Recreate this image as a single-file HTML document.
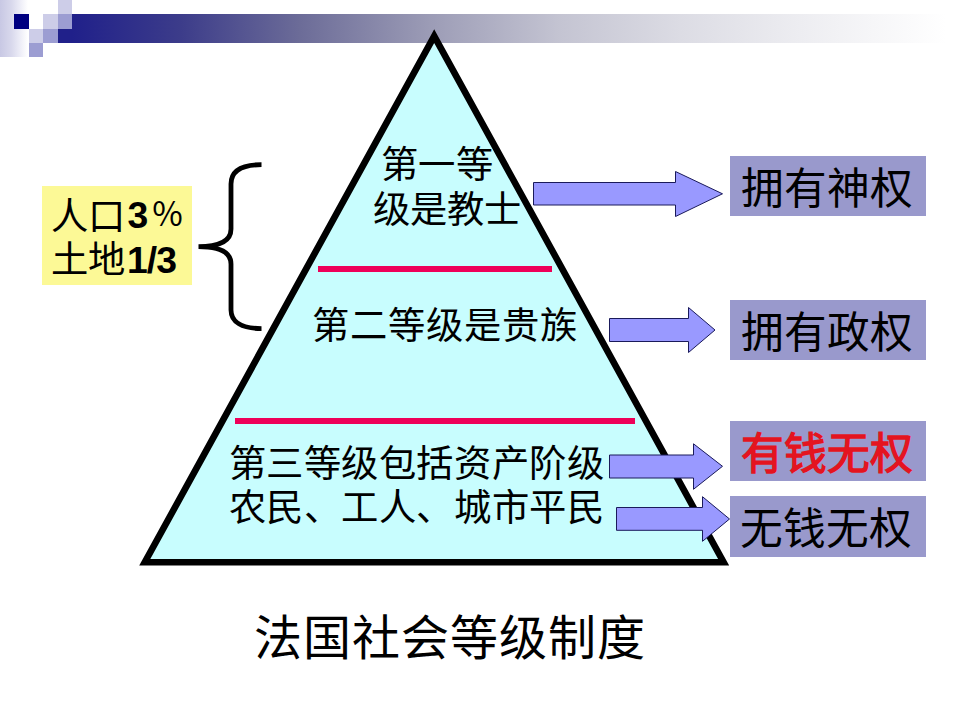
<!DOCTYPE html>
<html lang="zh-CN">
<head>
<meta charset="utf-8">
<style>
html,body{margin:0;padding:0;}
body{width:960px;height:720px;overflow:hidden;background:#ffffff;position:relative;font-family:"Liberation Serif",serif;}
.a{position:absolute;}
.t{position:absolute;white-space:nowrap;color:#000;line-height:1;}
</style>
</head>
<body>
<!-- top-left decoration -->
<div class="a" style="left:0;top:0;width:28px;height:57px;background:linear-gradient(to right,#c8c8e4 0%,#d8d8ec 40%,#efeff8 75%,#ffffff 100%);"></div>
<div class="a" style="left:14px;top:14px;width:15px;height:15px;background:#000080;"></div>
<div class="a" style="left:43px;top:14px;width:15px;height:15px;background:#cdcde8;"></div>
<div class="a" style="left:58px;top:0;width:14px;height:14px;background:#cdcde8;"></div>
<div class="a" style="left:58px;top:14px;width:14px;height:15px;background:#9c9dd2;"></div>
<div class="a" style="left:29px;top:29px;width:14px;height:14px;background:#cdcde8;"></div>
<div class="a" style="left:43px;top:29px;width:15px;height:14px;background:#9c9dd2;"></div>
<div class="a" style="left:29px;top:43px;width:14px;height:14px;background:#9c9dd2;"></div>
<div class="a" style="left:58px;top:29px;width:15px;height:14px;background:#20208a;"></div>
<div class="a" style="left:72px;top:14px;width:874px;height:29px;background:linear-gradient(to right,#20208a 0%,#3c3c8a 12.4%,#6c6c98 26.1%,#9c9cb6 41%,#c4c4d2 55.8%,#dcdce4 69.6%,#ededf1 83.3%,#ffffff 100%);"></div>

<svg class="a" style="left:0;top:0" width="960" height="720" viewBox="0 0 960 720">
  <!-- pyramid -->
  <polygon points="434.2,36.05 144.8,562.2 723.6,562.2" fill="#c8fdfe" stroke="#000" stroke-width="6.6" stroke-linejoin="miter"/>
  <!-- red lines -->
  <rect x="318" y="266" width="234" height="6" fill="#ee0058"/>
  <rect x="235" y="418" width="400" height="6" fill="#ee0058"/>
  <!-- brace -->
  <path d="M261.5,164.7 C242,164.7 231,171 231,184 L231,229 C231,240 222,246.6 198.5,246.6 C222,246.6 231,253 231,264 L231,310 C231,322 242,328.6 261.5,328.6" fill="none" stroke="#000" stroke-width="4.8"/>
  <!-- arrows -->
  <g fill="#9999ff" stroke="#1a1a5a" stroke-width="1">
    <path d="M533.5,182.5 L675.5,182.5 L675.5,171.5 L722.5,193.8 L675.5,216.5 L675.5,205 L533.5,205 Z"/>
    <path d="M609.5,318.5 L688.5,318.5 L688.5,307.5 L715,330 L688.5,352.5 L688.5,341.5 L609.5,341.5 Z"/>
    <path d="M609.5,455 L693.5,455 L693.5,443.8 L722.5,466.3 L693.5,489.3 L693.5,478 L609.5,478 Z"/>
    <path d="M616.5,507.5 L702.5,507.5 L702.5,496.7 L729.5,519 L702.5,541.3 L702.5,530.3 L616.5,530.3 Z"/>
  </g>
</svg>

<!-- yellow box -->
<div class="a" style="left:42px;top:186px;width:150px;height:99px;background:#fcf996;"></div>
<div class="t" style="left:50.5px;top:198.5px;font-size:37.33px;">人口</div>
<div class="t" style="left:127.5px;top:197px;font-size:37.33px;font-weight:bold;font-family:'Liberation Sans',sans-serif;">3</div>
<div class="t" style="left:150.5px;top:198.5px;font-size:33px;">％</div>
<div class="t" style="left:51px;top:242px;font-size:37.33px;">土地</div>
<div class="t" style="left:127px;top:241.5px;font-size:37.33px;font-weight:bold;letter-spacing:-1px;font-family:'Liberation Sans',sans-serif;">1/3</div>

<!-- pyramid text -->
<div class="t" style="left:380.5px;top:147px;letter-spacing:0.5px;font-size:37.33px;">第一等</div>
<div class="t" style="left:372.5px;top:192px;letter-spacing:0.3px;font-size:37.33px;">级是教士</div>
<div class="t" style="left:311.5px;top:308px;letter-spacing:1px;font-size:37.33px;">第二等级是贵族</div>
<div class="t" style="left:228.5px;top:446px;letter-spacing:0.6px;font-size:37.33px;">第三等级包括资产阶级</div>
<div class="t" style="left:228.5px;top:490px;letter-spacing:0.6px;font-size:37.33px;">农民、工人、城市平民</div>

<!-- right boxes -->
<div class="a" style="left:730px;top:156px;width:196px;height:60px;background:#9999cc;"></div>
<div class="a" style="left:730px;top:300px;width:196px;height:60px;background:#9999cc;"></div>
<div class="a" style="left:730px;top:421px;width:196px;height:60px;background:#9999cc;"></div>
<div class="a" style="left:730px;top:496px;width:196px;height:61px;background:#9999cc;"></div>
<div class="t" style="left:740.5px;top:168.5px;letter-spacing:0.3px;font-size:42.67px;">拥有神权</div>
<div class="t" style="left:740.5px;top:312.5px;letter-spacing:0.3px;font-size:42.67px;">拥有政权</div>
<div class="t" style="left:740.5px;top:432.5px;font-size:42.67px;color:#e41420;font-weight:bold;font-family:'Liberation Sans',sans-serif;">有钱无权</div>
<div class="t" style="left:739.5px;top:509px;letter-spacing:0.3px;font-size:42.67px;">无钱无权</div>

<!-- title -->
<div class="t" style="left:253.5px;top:615px;font-size:48px;letter-spacing:1px;">法国社会等级制度</div>
</body>
</html>
